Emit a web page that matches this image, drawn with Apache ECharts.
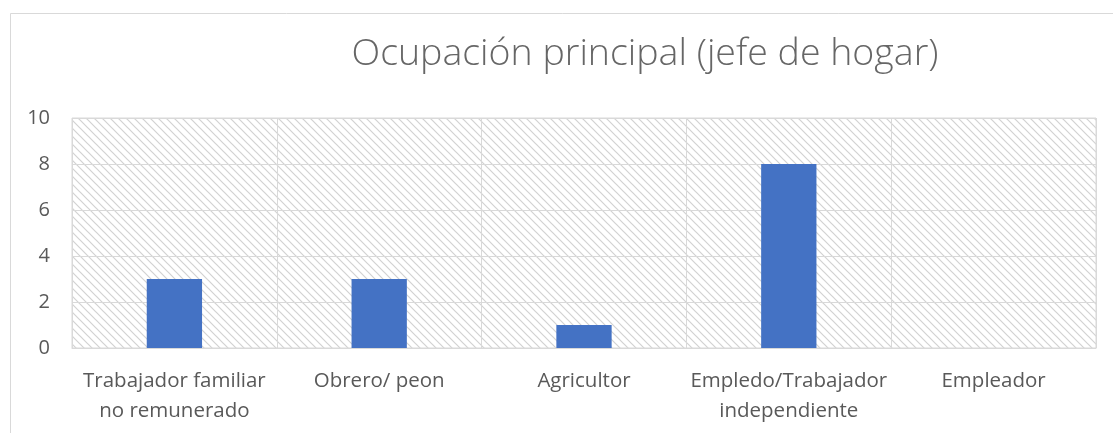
<!DOCTYPE html>
<html>
<head>
<meta charset="utf-8">
<script src="https://cdn.jsdelivr.net/npm/echarts@6/dist/echarts.min.js"></script>
<style>
html,body{margin:0;padding:0;background:#fff;}
#chart{width:1113px;height:433px;}
</style>
</head>
<body>
<div id="chart"></div>
<script>
const titleText = 'Ocupación principal (jefe de hogar)';
const categories = ['Trabajador familiar\nno remunerado', 'Obrero/ peon', 'Agricultor', 'Empledo/Trabajador\nindependiente', 'Empleador'];
const values = [3, 3, 1, 8, 0];
const yTicks = { min: 0, max: 10, interval: 2 };

// hatch pattern (downward diagonal)
const pat = document.createElement('canvas');
pat.width = 8; pat.height = 8;
const pc = pat.getContext('2d');
pc.fillStyle = '#ffffff';
pc.fillRect(0, 0, 8, 8);
pc.strokeStyle = '#d2d2d2';
pc.lineWidth = 1.2;
pc.beginPath();
pc.moveTo(-1, -1); pc.lineTo(9, 9);
pc.moveTo(-1, 7); pc.lineTo(1, 9);
pc.moveTo(7, -1); pc.lineTo(9, 1);
pc.stroke();

const chart = echarts.init(document.getElementById('chart'), null, { renderer: 'canvas' });
chart.setOption({
  animation: false,
  backgroundColor: '#ffffff',
  title: {
    text: titleText,
    left: 640,
    textAlign: 'center',
    top: 30,
    textStyle: { fontFamily: 'Open Sans', fontSize: 37.5, fontWeight: 300, color: '#666666' }
  },
  graphic: [{
    type: 'rect',
    left: 8, top: 11, silent: true,
    shape: { width: 1200, height: 500 },
    style: { fill: 'none', stroke: '#d9d9d9', lineWidth: 1 }
  }],
  grid: {
    left: 72, right: 17, top: 118, bottom: 85,
    show: true,
    backgroundColor: { image: pat, repeat: 'repeat' },
    borderColor: '#d9d9d9', borderWidth: 1
  },
  xAxis: {
    type: 'category',
    data: categories,
    axisLine: { show: true, lineStyle: { color: '#d9d9d9', width: 1 } },
    axisTick: { show: false },
    splitLine: { show: true, lineStyle: { color: '#d9d9d9', width: 1 } },
    axisLabel: {
      interval: 0, margin: 18,
      fontFamily: 'Open Sans', fontSize: 20.5, color: '#595959', lineHeight: 30
    }
  },
  yAxis: {
    type: 'value',
    min: yTicks.min, max: yTicks.max, interval: yTicks.interval,
    axisLine: { show: false },
    axisTick: { show: false },
    splitLine: { show: true, lineStyle: { color: '#d9d9d9', width: 1 } },
    axisLabel: { margin: 22, fontFamily: 'Open Sans', fontSize: 20, color: '#595959' }
  },
  series: [{
    type: 'bar',
    data: values,
    barWidth: '27%',
    itemStyle: { color: '#4472C4' }
  }]
});
</script>
</body>
</html>
